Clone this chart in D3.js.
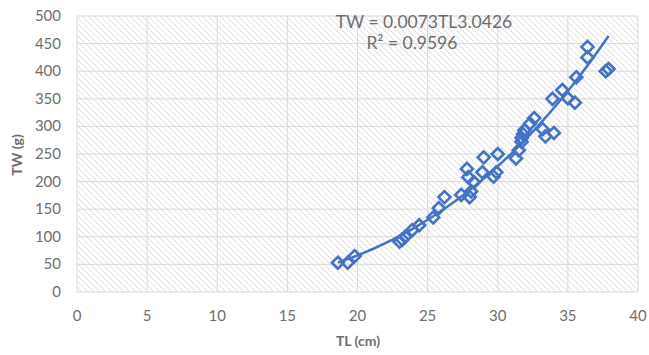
<!DOCTYPE html>
<html>
<head>
<meta charset="utf-8">
<script src="https://cdn.jsdelivr.net/npm/d3@7"></script>
<style>
  body { margin: 0; background: #fff; }
  text { font-family: Lato, "Open Sans", sans-serif; fill: #6e6e6e; }
</style>
</head>
<body>
<script>
// TL (cm) and TW (g)
var tl = [18.6, 19.3, 19.8, 23.0, 23.2, 23.4, 23.9, 24.4, 25.4, 25.8, 26.2, 27.4, 28.0, 28.1, 27.8, 27.9,
          28.3, 28.9, 29.0, 29.7, 29.9, 30.0, 31.3, 31.5, 31.7, 31.8, 31.7, 31.9, 32.3, 32.6, 33.2, 33.4,
          34.0, 33.9, 34.6, 35.0, 35.5, 35.6, 36.4, 36.4, 37.7, 37.9];
var tw = [53, 53, 65, 91, 95, 100, 112, 121, 135, 152, 172, 176, 172, 182, 223, 208,
          199, 217, 244, 209, 217, 250, 242, 257, 272, 286, 279, 293, 305, 315, 295, 282,
          288, 350, 366, 351, 343, 389, 444, 425, 400, 404];
var xTicks = [0, 5, 10, 15, 20, 25, 30, 35, 40];
var yTicks = [0, 50, 100, 150, 200, 250, 300, 350, 400, 450, 500];
var fitA = 0.0073, fitB = 3.0426;

var width = 649, height = 355;
var plotL = 77, plotR = 638, plotT = 16, plotB = 292;
var blue = "#4472C4";

var svg = d3.select("body").append("svg")
  .attr("width", width)
  .attr("height", height);

var x = d3.scaleLinear().domain([0, 40]).range([plotL, plotR]);
var y = d3.scaleLinear().domain([0, 500]).range([plotB, plotT]);

// hatch fill of the plot area
var pat = svg.append("defs").append("pattern")
  .attr("id", "hatch")
  .attr("patternUnits", "userSpaceOnUse")
  .attr("width", 6).attr("height", 6);
pat.append("path")
  .attr("d", "M-1,-1 L7,7 M-4,2 L2,8 M4,-2 L10,4")
  .attr("stroke", "#d9d9d9")
  .attr("stroke-width", 1.3)
  .attr("stroke-dasharray", "1.5,1");

svg.append("rect")
  .attr("x", plotL).attr("y", plotT)
  .attr("width", plotR - plotL).attr("height", plotB - plotT)
  .attr("fill", "url(#hatch)");

// grid
svg.append("g").selectAll("line").data(xTicks).enter().append("line")
  .attr("x1", d => x(d)).attr("x2", d => x(d))
  .attr("y1", plotT).attr("y2", plotB)
  .attr("stroke", "#d9d9d9").attr("stroke-width", 1);
svg.append("g").selectAll("line").data(yTicks).enter().append("line")
  .attr("x1", plotL).attr("x2", plotR)
  .attr("y1", d => y(d)).attr("y2", d => y(d))
  .attr("stroke", "#d9d9d9").attr("stroke-width", 1);

// tick labels
svg.append("g").selectAll("text").data(xTicks).enter().append("text")
  .attr("x", d => x(d)).attr("y", 321)
  .attr("text-anchor", "middle")
  .style("font-size", "15px")
  .text(d => d);
svg.append("g").selectAll("text").data(yTicks).enter().append("text")
  .attr("x", 61).attr("y", d => y(d) + 5)
  .attr("text-anchor", "end")
  .style("font-size", "15px")
  .text(d => d);

// axis titles
svg.append("text")
  .attr("x", 358).attr("y", 346)
  .attr("text-anchor", "middle")
  .style("font-size", "14px").style("font-weight", "bold")
  .text("TL (cm)");
svg.append("text")
  .attr("transform", "translate(22,155) rotate(-90)")
  .attr("text-anchor", "middle")
  .style("font-size", "14px").style("font-weight", "bold")
  .text("TW (g)");

// power trendline
var xMin = d3.min(tl), xMax = d3.max(tl);
var fit = d3.range(xMin, xMax + 0.001, 0.2).concat([xMax]).map(v => [v, fitA * Math.pow(v, fitB)]);
svg.append("path")
  .datum(fit)
  .attr("fill", "none")
  .attr("stroke", blue)
  .attr("stroke-width", 2.5)
  .attr("d", d3.line().x(d => x(d[0])).y(d => y(d[1])));

// points
var pts = tl.map((v, i) => [v, tw[i]]);
svg.append("g").selectAll("path").data(pts).enter().append("path")
  .attr("transform", d => "translate(" + x(d[0]) + "," + y(d[1]) + ")")
  .attr("d", "M0,-6 L6,0 L0,6 L-6,0 Z")
  .attr("fill", "none")
  .attr("stroke", blue)
  .attr("stroke-width", 2.6);

// equation
svg.append("text")
  .attr("x", 424).attr("y", 28)
  .attr("text-anchor", "middle")
  .style("font-size", "17.5px")
  .text("TW = " + fitA + "TL" + fitB);
svg.append("text")
  .attr("x", 412).attr("y", 49)
  .attr("text-anchor", "middle")
  .style("font-size", "17.5px")
  .text("R² = 0.9596");
</script>
</body>
</html>
